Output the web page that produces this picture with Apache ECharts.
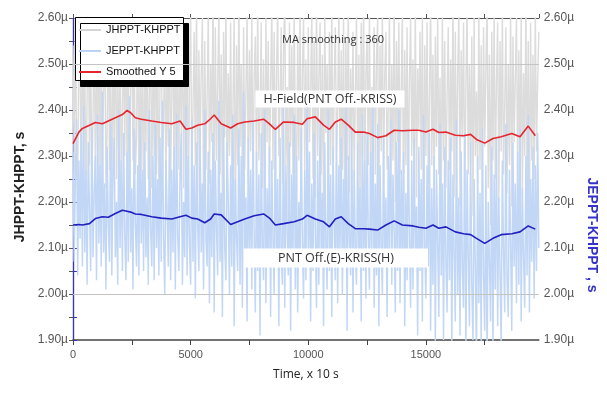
<!DOCTYPE html>
<html><head><meta charset="utf-8">
<script src="https://cdn.jsdelivr.net/npm/echarts@6/dist/echarts.min.js"></script>
<style>html,body{margin:0;padding:0;background:#fff}#c{width:607px;height:396px}</style>
</head><body><div id="c"></div>
<script>
// ---- data (values in microseconds) ----
const noiseStep = 50; // time spacing of raw samples shown (x 10 s)
const jhpptNoise = [
2.54,2.27,2.61,2.33,2.22,2.58,2.47,2.25,2.64,2.30,
2.51,2.19,2.43,2.62,2.28,2.56,2.24,2.38,2.60,2.26,
2.49,2.31,2.65,2.21,2.53,2.29,2.44,2.59,2.23,2.35,
2.62,2.27,2.50,2.17,2.57,2.32,2.63,2.25,2.46,2.28,
2.60,2.22,2.39,2.55,2.30,2.66,2.24,2.52,2.20,2.45,
2.61,2.29,2.56,2.26,2.34,2.63,2.21,2.48,2.27,2.58,
2.14,2.53,2.31,2.62,2.25,2.42,2.59,2.23,2.50,2.30,
2.64,2.26,2.55,2.19,2.47,2.60,2.28,2.37,2.57,2.22,
2.52,2.32,2.65,2.24,2.44,2.58,2.20,2.61,2.29,2.49,
2.27,2.56,2.35,2.63,2.23,2.51,2.30,2.59,2.18,2.46,
2.62,2.25,2.40,2.57,2.28,2.64,2.22,2.53,2.31,2.48,
2.60,2.16,2.55,2.27,2.43,2.61,2.24,2.50,2.33,2.66,
2.21,2.58,2.29,2.45,2.62,2.26,2.52,2.19,2.57,2.34,
2.63,2.23,2.48,2.30,2.59,2.25,2.41,2.60,2.12,2.54,
2.28,2.65,2.32,2.50,2.22,2.58,2.27,2.44,2.61,2.24,
2.53,2.31,2.62,2.20,2.47,2.56,2.26,2.64,2.29,2.39,
2.59,2.23,2.51,2.18,2.60,2.33,2.55,2.25,2.46,2.63,
2.27,2.57,2.21,2.49,2.62,2.30,2.42,2.58,2.24,2.52,
2.65,2.28,2.45,2.15,2.59,2.32,2.54,2.26,2.61,2.36,
2.22,2.56,2.29,2.63,2.24,2.48,2.60,2.27,2.51,2.19,
2.58,2.33,2.44,2.62,2.25,2.55,2.21,2.64,2.30,2.47,
2.59,2.26,2.52,2.17,2.61,2.35,2.50,2.23,2.57,2.28,
2.63,2.20,2.46,2.58,2.31,2.40,2.62,2.24,2.53,2.27,
2.60,2.13,2.55,2.29,2.64,2.22,2.49,2.32,2.57,2.25,
2.43,2.61,2.26,2.52,2.19,2.59,2.30,2.65,2.23,2.48,
2.56,2.28,2.62,2.21,2.45,2.34,2.58,2.26,2.51,2.60,
2.18,2.54,2.31,2.63,2.24,2.47,2.57,2.27,2.40,2.61,
2.23,2.50,2.29,2.64,2.20,2.55,2.33,2.59,2.26,2.44,
2.62,2.16,2.53,2.28,2.58,2.22,2.46,2.60,2.30,2.51,
2.25,2.63,2.21,2.49,2.36,2.57,2.27,2.61,2.14,2.54,
2.30,2.59,2.24,2.42,2.64,2.28,2.52,2.20,2.56,2.32,
2.60,2.26,2.47,2.18,2.62,2.29,2.55,2.23,2.43,2.58,
2.27,2.51,2.31,2.65,2.21,2.57,2.25,2.48,2.61,2.19,
2.53,2.34,2.59,2.22,2.45,2.63,2.26,2.50,2.28,2.56,
2.17,2.60,2.30,2.44,2.24,2.62,2.27,2.54,2.21,2.58,
2.32,2.49,2.64,2.23,2.52,2.15,2.57,2.29,2.61,2.25,
2.46,2.59,2.20,2.55,2.31,2.62,2.26,2.41,2.58,2.22,
2.50,2.28,2.63,2.19,2.56,2.33,2.47,2.60,2.24,2.53,
2.27,2.61,2.21,2.48,2.30,2.64,2.23,2.55,2.16,2.59,
2.29,2.52,2.25,2.62,2.31,2.46,2.57
];
const jepptNoise = [
2.31,2.07,2.25,2.38,2.04,2.29,2.12,2.35,2.06,2.41,
2.09,2.27,2.02,2.33,2.18,2.05,2.36,2.08,2.22,2.30,
2.03,2.39,2.11,2.28,2.06,2.44,2.09,2.24,2.01,2.32,
2.15,2.07,2.37,2.04,2.26,2.34,2.08,2.20,2.02,2.40,
2.10,2.29,2.05,2.35,2.13,2.03,2.31,2.07,2.43,2.09,
2.23,2.01,2.36,2.16,2.06,2.28,2.04,2.38,2.11,2.27,
2.05,2.33,2.08,2.21,2.02,2.40,2.14,2.06,2.30,2.03,
2.37,2.10,2.25,2.04,2.34,2.07,2.42,2.12,2.00,2.29,
2.18,2.06,2.36,2.03,2.27,2.09,2.32,2.01,2.39,2.13,
2.05,2.26,2.35,2.02,2.20,2.08,2.41,2.04,2.30,2.11,
2.02,2.38,2.07,2.28,1.99,2.33,2.15,2.05,2.36,2.09,
2.24,2.01,2.40,2.12,2.06,2.31,1.98,2.27,2.08,2.35,
1.96,2.29,2.14,2.04,2.42,2.07,2.22,1.95,2.37,2.10,
2.03,2.33,2.19,2.00,2.28,2.06,2.39,1.93,2.25,2.12,
2.05,2.36,2.02,2.30,1.97,2.44,2.09,2.21,1.94,2.34,
2.08,2.27,2.01,2.38,2.13,1.96,2.31,2.05,2.26,1.91,
2.35,2.10,2.03,2.40,1.98,2.23,2.07,2.32,1.95,2.29,
2.12,2.00,2.37,2.06,2.25,1.93,2.34,2.09,2.02,2.41,
1.97,2.28,2.14,2.04,2.33,1.92,2.26,2.08,2.39,2.01,
2.30,1.96,2.20,2.06,2.36,2.11,1.99,2.27,2.03,2.43,
2.08,2.31,1.94,2.24,2.05,2.35,2.13,1.97,2.29,2.02,
2.38,2.07,2.22,1.93,2.33,2.10,2.01,2.40,2.05,2.26,
1.95,2.32,2.16,2.03,2.37,1.98,2.28,2.09,2.34,2.00,
2.25,2.06,2.41,1.92,2.30,2.12,2.04,2.36,1.96,2.27,
2.10,2.02,2.33,2.07,2.23,1.94,2.39,2.05,2.29,1.99,
2.35,2.13,2.01,2.31,2.08,2.42,1.97,2.24,2.04,2.37,
1.93,2.28,2.11,2.00,2.34,2.06,2.21,1.95,2.30,2.09,
2.38,2.02,2.26,2.14,1.96,2.33,2.05,2.40,1.98,2.27,
2.07,2.31,1.93,2.22,2.03,2.36,2.12,1.97,2.29,2.01,
2.34,2.08,2.19,1.91,2.32,2.05,2.25,1.94,2.39,2.10,
1.99,2.28,2.06,2.35,1.92,2.23,2.02,2.30,1.89,2.27,
2.11,1.95,2.37,2.04,2.24,1.90,2.32,2.07,1.96,2.29,
2.03,2.34,1.88,2.26,2.09,1.94,2.38,2.00,2.21,1.91,
2.31,2.05,1.97,2.35,1.87,2.27,2.08,1.93,2.33,2.02,
1.90,2.25,2.06,1.86,2.30,1.98,2.22,1.89,2.36,2.04,
1.92,2.28,1.85,2.20,2.07,1.94,2.32,1.88,2.26,2.01,
2.34,1.93,2.21,2.05,1.89,2.29,2.09,1.96,2.37,2.03,
1.95,2.27,2.11,1.92,2.33,2.06,2.24,1.98,2.31,2.02,
2.36,1.94,2.23,2.08,1.97,2.30,2.04,2.39,1.96,2.25,
2.07,2.32,1.99,2.28,2.05,2.35,2.10
];
const smoothTime = [0,250,400,700,950,1250,1500,1800,2100,2300,2450,2650,2900,3350,3750,4200,4550,4800,5050,5300,5600,5850,6000,6300,6700,7000,7300,7700,8100,8350,8600,8950,9400,9750,9950,10300,10650,10900,11150,11400,11700,12000,12350,12600,12950,13300,13650,14000,14450,14700,15000,15300,15550,15850,16250,16600,16900,17150,17500,17850,18200,18650,19000,19350,19650];
const smoothRed = [2.327,2.352,2.360,2.367,2.373,2.370,2.376,2.383,2.390,2.399,2.394,2.383,2.380,2.376,2.373,2.370,2.376,2.358,2.361,2.367,2.370,2.381,2.389,2.370,2.361,2.370,2.374,2.376,2.380,2.370,2.358,2.374,2.373,2.369,2.381,2.385,2.367,2.358,2.374,2.380,2.367,2.352,2.352,2.349,2.340,2.344,2.356,2.355,2.356,2.356,2.352,2.358,2.351,2.352,2.345,2.344,2.347,2.336,2.328,2.338,2.342,2.349,2.342,2.365,2.344];
const smoothBlue = [2.150,2.151,2.150,2.153,2.164,2.168,2.167,2.175,2.182,2.180,2.178,2.174,2.173,2.168,2.165,2.163,2.168,2.171,2.165,2.163,2.155,2.163,2.174,2.172,2.151,2.157,2.163,2.170,2.174,2.165,2.150,2.153,2.157,2.163,2.171,2.163,2.157,2.146,2.163,2.168,2.153,2.142,2.142,2.141,2.139,2.150,2.159,2.150,2.148,2.145,2.143,2.150,2.143,2.146,2.135,2.131,2.129,2.121,2.110,2.121,2.129,2.131,2.135,2.148,2.141];
const gridValues = [2.0, 2.5];
const seriesNames = ['JHPPT-KHPPT','JEPPT-KHPPT','Smoothed Y 5','Smoothed Y 6'];
const yMin = 1.9, yMax = 2.6, yStep = 0.1;
const xMin = 0, xMax = 19800, xStep = 5000;

const pairs = (xs, ys) => ys.map((v, i) => [xs[i], v]);
const noisePairs = ys => ys.map((v, i) => [i * noiseStep, v]);
const yFmt = v => (Math.round(v * 100) % 10 === 0 ? v.toFixed(2) + '\u00b5' : '');
const xFmt = v => (v % xStep === 0 ? String(v) : '');
const tickFont = {fontFamily: 'Liberation Sans', fontSize: 12, color: '#555'};

const chart = echarts.init(document.getElementById('c'), null, {renderer: 'canvas'});
chart.setOption({
  animation: false,
  backgroundColor: '#fff',
  grid: {left: 73, right: 64, top: 18, bottom: 56},
  legend: {
    data: [
      {name: seriesNames[0], icon: 'rect'},
      {name: seriesNames[1], icon: 'rect'},
      {name: seriesNames[2], icon: 'rect'}
    ],
    orient: 'vertical', left: 79, top: 23, padding: 0,
    itemGap: 7, itemWidth: 22, itemHeight: 2,
    textStyle: {fontFamily: 'Liberation Sans', fontSize: 11, color: '#111', lineHeight: 14},
    z: 5
  },
  xAxis: [{
    type: 'value', min: xMin, max: xMax, interval: xStep / 2, position: 'bottom', z: 3,
    name: 'Time, x 10 s', nameLocation: 'middle', nameGap: 29,
    nameTextStyle: {fontFamily: 'Open Sans', fontSize: 12, color: '#222'},
    axisLine: {onZero: false, lineStyle: {color: '#444', width: 1.5}},
    axisTick: {length: 5, lineStyle: {color: '#444'}},
    axisLabel: {margin: 9, fontSize: 11, fontFamily: 'Liberation Sans', color: '#555', formatter: xFmt, showMaxLabel: false, hideOverlap: false, interval: 0},
    splitLine: {show: false}
  }, {
    type: 'value', min: xMin, max: xMax, interval: xStep / 2, position: 'top', z: 3,
    axisLine: {onZero: false, lineStyle: {color: '#555', width: 1.2}},
    axisTick: {length: 4, lineStyle: {color: '#555'}},
    axisLabel: {show: false}, splitLine: {show: false}
  }],
  yAxis: [{
    type: 'value', min: yMin, max: yMax, interval: yStep / 2, position: 'left', z: 3,
    name: 'JHPPT-KHPPT, s', nameLocation: 'middle', nameGap: 45,
    nameTextStyle: {fontFamily: 'Liberation Sans', fontSize: 14, fontWeight: 'bold', color: '#222', padding: [0, 16, 0, 0]},
    axisLine: {show: true, lineStyle: {color: '#555', width: 1.2}},
    axisTick: {length: 4, lineStyle: {color: '#555'}},
    axisLabel: Object.assign({margin: 5, formatter: yFmt}, tickFont),
    splitLine: {show: false}
  }, {
    type: 'value', min: yMin, max: yMax, interval: yStep / 2, position: 'right', z: 3,
    name: 'JEPPT-KHPPT , s', nameLocation: 'middle', nameGap: 46, nameRotate: -90,
    nameTextStyle: {fontFamily: 'Liberation Sans', fontSize: 14, fontWeight: 'bold', color: '#3333cc', padding: [0, 0, 0, 112]},
    axisLine: {show: true, lineStyle: {color: '#3333cc', width: 1.2}},
    axisTick: {length: 4, lineStyle: {color: '#3333cc'}},
    axisLabel: Object.assign({margin: 5, formatter: yFmt}, tickFont),
    splitLine: {show: false}
  }],
  series: [{
    name: seriesNames[0], type: 'line', yAxisIndex: 0, symbol: 'none', clip: true,
    data: noisePairs(jhpptNoise),
    lineStyle: {color: '#dcdcdc', width: 1.4}, itemStyle: {color: '#d4d4d4'},
    markLine: {silent: true, symbol: 'none', label: {show: false},
      lineStyle: {color: '#c4c4c4', type: 'solid', width: 1},
      data: gridValues.map(v => ({yAxis: v}))}
  }, {
    name: seriesNames[1], type: 'line', yAxisIndex: 1, symbol: 'none', clip: true,
    data: noisePairs(jepptNoise),
    lineStyle: {color: '#c2d7f6', width: 1.5}, itemStyle: {color: '#bcd3f5'}
  }, {
    name: seriesNames[2], type: 'line', yAxisIndex: 0, symbol: 'none',
    data: pairs(smoothTime, smoothRed),
    lineStyle: {color: '#e6262e', width: 1.6}, itemStyle: {color: '#e6262e'}
  }, {
    name: seriesNames[3], type: 'line', yAxisIndex: 1, symbol: 'none',
    data: pairs(smoothTime, smoothBlue),
    lineStyle: {color: '#2020c0', width: 1.6}, itemStyle: {color: '#2020c0'}
  }],
  graphic: [
    {type: 'rect', left: 75, top: 17, z: 4, silent: true,
     shape: {width: 108, height: 63},
     style: {fill: '#fff', stroke: '#000', lineWidth: 1, shadowColor: '#000', shadowBlur: 0, shadowOffsetX: 5, shadowOffsetY: 6}},
    {type: 'text', x: 333, y: 40, z: 6, silent: true,
     style: {text: 'MA smoothing : 360', align: 'center', verticalAlign: 'middle', fontFamily: 'Open Sans', fontSize: 11, fill: '#333'}},
    {type: 'text', x: 330, y: 99, z: 6, silent: true,
     style: {text: 'H-Field(PNT Off.-KRISS)', align: 'center', verticalAlign: 'middle', fontFamily: 'Open Sans', fontSize: 12.5, fill: '#333', backgroundColor: '#fff', padding: [2, 8, 2, 8]}},
    {type: 'text', x: 336, y: 258, z: 6, silent: true,
     style: {text: 'PNT Off.(E)-KRISS(H)', align: 'center', verticalAlign: 'middle', fontFamily: 'Open Sans', fontSize: 12.5, fill: '#333', backgroundColor: '#fff', padding: [3, 34, 3, 34]}}
  ]
});
</script></body></html>
